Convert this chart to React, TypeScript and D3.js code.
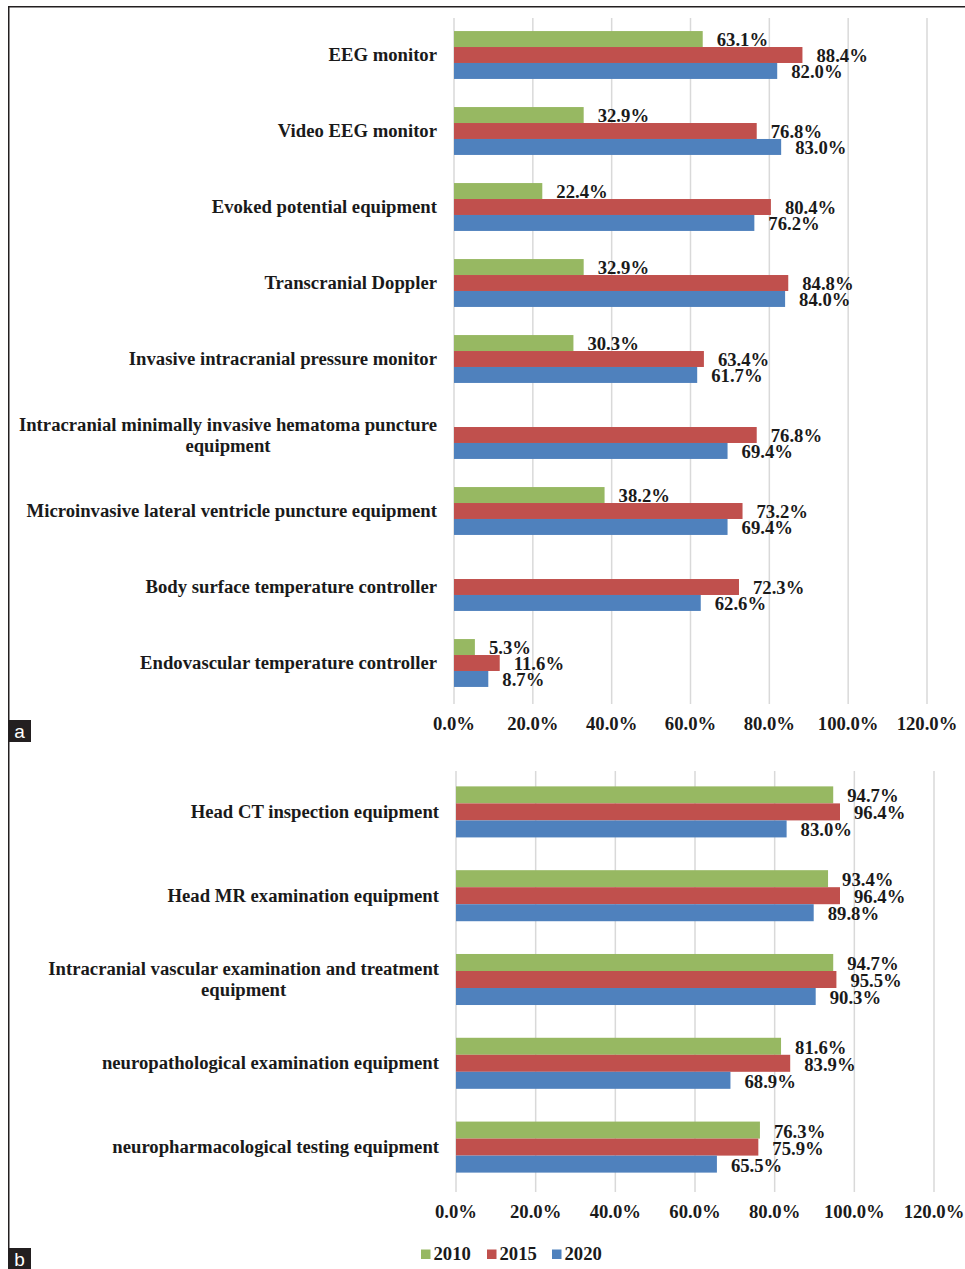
import React, { useEffect, useRef } from "react";
import * as d3 from "d3";

// Panel a: neuro-monitoring and treatment equipment
const catsA: string[][] = [
  ["EEG monitor"],
  ["Video EEG monitor"],
  ["Evoked potential equipment"],
  ["Transcranial Doppler"],
  ["Invasive intracranial pressure monitor"],
  ["Intracranial minimally invasive hematoma puncture", "equipment"],
  ["Microinvasive lateral ventricle puncture equipment"],
  ["Body surface temperature controller"],
  ["Endovascular temperature controller"],
];
const a2010: (number | null)[] = [63.1, 32.9, 22.4, 32.9, 30.3, null, 38.2, null, 5.3];
const a2015: number[] = [88.4, 76.8, 80.4, 84.8, 63.4, 76.8, 73.2, 72.3, 11.6];
const a2020: number[] = [82.0, 83.0, 76.2, 84.0, 61.7, 69.4, 69.4, 62.6, 8.7];

// Panel b: examination equipment
const catsB: string[][] = [
  ["Head CT inspection equipment"],
  ["Head MR examination equipment"],
  ["Intracranial vascular examination and treatment", "equipment"],
  ["neuropathological examination equipment"],
  ["neuropharmacological testing equipment"],
];
const b2010: number[] = [94.7, 93.4, 94.7, 81.6, 76.3];
const b2015: number[] = [96.4, 96.4, 95.5, 83.9, 75.9];
const b2020: number[] = [83.0, 89.8, 90.3, 68.9, 65.5];

const ticks: number[] = [0, 20, 40, 60, 80, 100, 120];
const years: string[] = ["2010", "2015", "2020"];
const colors: string[] = ["#97B862", "#C0504D", "#4F81BD"];

const FONT = "'Liberation Serif', 'Times New Roman', serif";
const FS = 18.7;

type Panel = {
  cats: string[][];
  series: (number | null)[][];
  x0: number;
  x1: number;
  y0: number;
  y1: number;
  labelRight: number;
  tickY: number;
  barFrac: number;
};

export default function App() {
  const ref = useRef<SVGSVGElement>(null);

  useEffect(() => {
    const svg = d3.select(ref.current!);
    svg.selectAll("*").remove();

    const panels: Panel[] = [
      {
        cats: catsA,
        series: [a2010, a2015, a2020],
        x0: 454, x1: 927, y0: 17, y1: 701,
        labelRight: 437, tickY: 723, barFrac: 0.21,
      },
      {
        cats: catsB,
        series: [b2010, b2015, b2020],
        x0: 456, x1: 934, y0: 770, y1: 1189,
        labelRight: 439, tickY: 1211, barFrac: 0.203,
      },
    ];

    panels.forEach((p) => {
      const g = svg.append("g");
      const x = d3.scaleLinear().domain([0, 120]).range([p.x0, p.x1]);
      const y = d3
        .scaleBand<number>()
        .domain(d3.range(p.cats.length))
        .range([p.y0, p.y1]);
      const barH = y.bandwidth() * p.barFrac;

      // vertical gridlines
      g.selectAll("line.grid")
        .data(ticks)
        .join("line")
        .attr("x1", (d) => x(d))
        .attr("x2", (d) => x(d))
        .attr("y1", p.y0 + 1)
        .attr("y2", p.y1 + 3)
        .attr("stroke", "#d9d9d9")
        .attr("stroke-width", 1.5);

      // tick labels
      g.selectAll("text.tick")
        .data(ticks)
        .join("text")
        .attr("x", (d) => x(d))
        .attr("y", p.tickY)
        .attr("dy", "0.35em")
        .attr("text-anchor", "middle")
        .attr("font-family", FONT)
        .attr("font-weight", "bold")
        .attr("font-size", FS)
        .attr("fill", "#1a1a1a")
        .text((d) => `${d.toFixed(1)}%`);

      // bars and value labels
      p.series.forEach((vals, si) => {
        vals.forEach((v, ci) => {
          if (v === null) return;
          const c = y(ci)! + y.bandwidth() / 2;
          const top = c - 1.5 * barH + si * barH;
          g.append("rect")
            .attr("x", x(0))
            .attr("y", top)
            .attr("width", x(v) - x(0))
            .attr("height", barH)
            .attr("fill", colors[si]);
          g.append("text")
            .attr("x", x(v) + 14)
            .attr("y", top + barH - 1)
            .attr("font-family", FONT)
            .attr("font-weight", "bold")
            .attr("font-size", FS)
            .attr("fill", "#1a1a1a")
            .text(`${v.toFixed(1)}%`);
        });
      });

      // category labels (multi-line labels are centred as a block)
      p.cats.forEach((lines, ci) => {
        const c = y(ci)! + y.bandwidth() / 2;
        const lineH = 21;
        const t = g
          .append("text")
          .attr("font-family", FONT)
          .attr("font-weight", "bold")
          .attr("font-size", FS)
          .attr("fill", "#1a1a1a");
        if (lines.length === 1) {
          t.attr("x", p.labelRight)
            .attr("y", c + 6)
            .attr("text-anchor", "end")
            .text(lines[0]);
        } else {
          const spans = lines.map((l, li) =>
            t
              .append("tspan")
              .attr("y", c + 6 + (li - (lines.length - 1) / 2) * lineH)
              .text(l)
          );
          const widths = spans.map((s) => (s.node() as SVGTSpanElement).getComputedTextLength());
          const w = d3.max(widths) || 0;
          const mid = p.labelRight - w / 2;
          t.attr("text-anchor", "middle");
          spans.forEach((s) => s.attr("x", mid));
        }
      });
    });

    // legend
    const lg = svg.append("g");
    const legX = [421, 487, 552];
    years.forEach((yr, i) => {
      lg.append("rect")
        .attr("x", legX[i])
        .attr("y", 1249.5)
        .attr("width", 9.5)
        .attr("height", 9.5)
        .attr("fill", colors[i]);
      lg.append("text")
        .attr("x", legX[i] + 12.5)
        .attr("y", 1253.5)
        .attr("dy", "0.35em")
        .attr("font-family", FONT)
        .attr("font-weight", "bold")
        .attr("font-size", FS)
        .attr("fill", "#1a1a1a")
        .text(yr);
    });

    // frame
    svg.append("line")
      .attr("x1", 8).attr("x2", 965)
      .attr("y1", 6.75).attr("y2", 6.75)
      .attr("stroke", "#231f20").attr("stroke-width", 1.5);
    svg.append("line")
      .attr("x1", 8.75).attr("x2", 8.75)
      .attr("y1", 6).attr("y2", 1269)
      .attr("stroke", "#231f20").attr("stroke-width", 1.5);

    // panel tags
    [
      { t: "a", y: 720 },
      { t: "b", y: 1248 },
    ].forEach((tag) => {
      svg.append("rect")
        .attr("x", 8).attr("y", tag.y)
        .attr("width", 23).attr("height", 22)
        .attr("fill", "#231f20");
      svg.append("text")
        .attr("x", 19.5).attr("y", tag.y + 11)
        .attr("dy", "0.35em")
        .attr("text-anchor", "middle")
        .attr("font-family", "'Liberation Sans', Arial, sans-serif")
        .attr("font-size", 19)
        .attr("fill", "#ffffff")
        .text(tag.t);
    });
  }, []);

  return (
    <div style={{ position: "absolute", left: 0, top: 0 }}>
      <svg ref={ref} width={965} height={1269} style={{ display: "block", background: "#fff" }} />
    </div>
  );
}
